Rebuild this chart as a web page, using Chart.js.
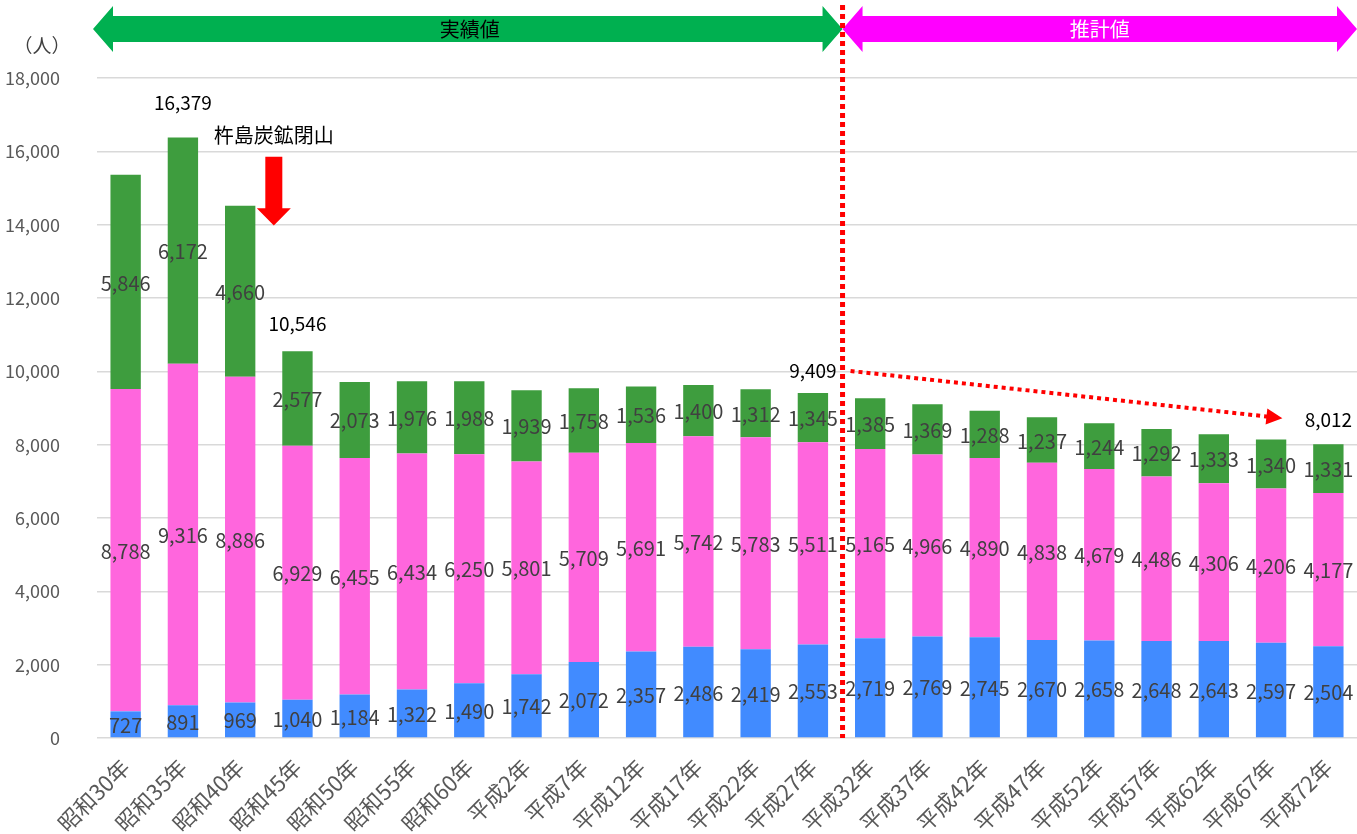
<!DOCTYPE html>
<html>
<head>
<meta charset="utf-8">
<script src="https://cdn.jsdelivr.net/npm/chart.js@4"></script>
<style>
  body { margin: 0; background: #fff; }
  #wrap { width: 1357px; height: 834px; position: relative; }
</style>
</head>
<body>
<div id="wrap"><canvas id="popChart"></canvas></div>
<script>
const years = ['昭和30年', '昭和35年', '昭和40年', '昭和45年', '昭和50年', '昭和55年', '昭和60年',
  '平成2年', '平成7年', '平成12年', '平成17年', '平成22年', '平成27年', '平成32年', '平成37年',
  '平成42年', '平成47年', '平成52年', '平成57年', '平成62年', '平成67年', '平成72年'];

const young = [727, 891, 969, 1040, 1184, 1322, 1490, 1742, 2072, 2357, 2486, 2419, 2553,
  2719, 2769, 2745, 2670, 2658, 2648, 2643, 2597, 2504];
const working = [8788, 9316, 8886, 6929, 6455, 6434, 6250, 5801, 5709, 5691, 5742, 5783, 5511,
  5165, 4966, 4890, 4838, 4679, 4486, 4306, 4206, 4177];
const elderly = [5846, 6172, 4660, 2577, 2073, 1976, 1988, 1939, 1758, 1536, 1400, 1312, 1345,
  1385, 1369, 1288, 1237, 1244, 1292, 1333, 1340, 1331];

const yTicks = [0, 2000, 4000, 6000, 8000, 10000, 12000, 14000, 16000, 18000];
const totalShown = [1, 3, 12, 21];   // bars with a total above them
const lastActual = 12;               // 平成27年

const font = "'Noto Sans CJK JP', 'Noto Sans', sans-serif";
Chart.defaults.font.family = font;

const fmt = v => v.toLocaleString('en-US');

// value labels in the middle of each segment
const segLabels = {
  id: 'segLabels',
  afterDatasetsDraw(chart) {
    const ctx = chart.ctx;
    ctx.save();
    ctx.font = '20px ' + font;
    ctx.fillStyle = '#404040';
    ctx.textAlign = 'center';
    ctx.textBaseline = 'middle';
    chart.data.datasets.forEach((ds, i) => {
      chart.getDatasetMeta(i).data.forEach((bar, j) => {
        const p = bar.getProps(['x', 'y', 'base'], true);
        ctx.fillText(fmt(ds.data[j]), p.x, (p.y + p.base) / 2 + 1);
      });
    });
    ctx.restore();
  }
};

function dblArrow(ctx, x1, x2, yc, shaftH, headH, headL, color) {
  ctx.fillStyle = color;
  ctx.beginPath();
  ctx.moveTo(x1, yc);
  ctx.lineTo(x1 + headL, yc - headH / 2);
  ctx.lineTo(x1 + headL, yc - shaftH / 2);
  ctx.lineTo(x2 - headL, yc - shaftH / 2);
  ctx.lineTo(x2 - headL, yc - headH / 2);
  ctx.lineTo(x2, yc);
  ctx.lineTo(x2 - headL, yc + headH / 2);
  ctx.lineTo(x2 - headL, yc + shaftH / 2);
  ctx.lineTo(x1 + headL, yc + shaftH / 2);
  ctx.lineTo(x1 + headL, yc + headH / 2);
  ctx.closePath();
  ctx.fill();
}

const notes = {
  id: 'notes',
  afterDraw(chart) {
    const ctx = chart.ctx;
    const xs = chart.scales.x, ys = chart.scales.y;
    const area = chart.chartArea;
    const splitX = (xs.getPixelForValue(lastActual) + xs.getPixelForValue(lastActual + 1)) / 2 + 1;
    ctx.save();

    // top range arrows
    dblArrow(ctx, area.left - 4, splitX, 29, 26, 46, 20, '#00b050');
    dblArrow(ctx, splitX, chart.width, 29, 26, 46, 20, '#ff00ff');
    ctx.font = '20px ' + font;
    ctx.textAlign = 'center';
    ctx.textBaseline = 'middle';
    ctx.fillStyle = '#000';
    ctx.fillText('実績値', (area.left + splitX) / 2, 29);
    ctx.fillStyle = '#fff';
    ctx.fillText('推計値', (splitX + chart.width) / 2, 29);

    // unit
    ctx.fillStyle = '#404040';
    ctx.font = '19px ' + font;
    ctx.fillText('（人）', 42, 46);

    // vertical split line
    ctx.strokeStyle = '#ff0000';
    ctx.lineWidth = 5;
    ctx.setLineDash([5, 4]);
    ctx.beginPath();
    ctx.moveTo(splitX, 5);
    ctx.lineTo(splitX, area.bottom);
    ctx.stroke();

    // totals
    ctx.fillStyle = '#000';
    ctx.font = '19px ' + font;
    ctx.textBaseline = 'middle';
    const lift = {1: 35, 3: 28, 12: 22, 21: 24};
    totalShown.forEach(i => {
      const t = young[i] + working[i] + elderly[i];
      const x = xs.getPixelForValue(i);
      ctx.fillText(fmt(t), x, ys.getPixelForValue(t) - lift[i]);
    });

    // trend arrow 9,409 -> 8,012
    const t0 = young[lastActual] + working[lastActual] + elderly[lastActual];
    const last = years.length - 1;
    const t1 = young[last] + working[last] + elderly[last];
    const ax1 = splitX + 8, ay1 = ys.getPixelForValue(t0) - 22;
    const ax2 = xs.getPixelForValue(last) - 46, ay2 = ys.getPixelForValue(t1) - 26;
    const ang = Math.atan2(ay2 - ay1, ax2 - ax1);
    ctx.lineWidth = 4;
    ctx.setLineDash([4, 4]);
    ctx.beginPath();
    ctx.moveTo(ax1, ay1);
    ctx.lineTo(ax2 - 14 * Math.cos(ang), ay2 - 14 * Math.sin(ang));
    ctx.stroke();
    ctx.setLineDash([]);
    ctx.fillStyle = '#ff0000';
    ctx.beginPath();
    ctx.moveTo(ax2, ay2);
    ctx.lineTo(ax2 - 16 * Math.cos(ang) + 8 * Math.sin(ang), ay2 - 16 * Math.sin(ang) - 8 * Math.cos(ang));
    ctx.lineTo(ax2 - 16 * Math.cos(ang) - 8 * Math.sin(ang), ay2 - 16 * Math.sin(ang) + 8 * Math.cos(ang));
    ctx.closePath();
    ctx.fill();

    // mine closure note + down arrow
    const mx = (xs.getPixelForValue(2) + xs.getPixelForValue(3)) / 2 + 5;
    ctx.fillStyle = '#000';
    ctx.font = '20px ' + font;
    ctx.fillText('杵島炭鉱閉山', mx, ys.getPixelForValue(16430));
    const top = ys.getPixelForValue(15850), neck = ys.getPixelForValue(14450), tip = ys.getPixelForValue(13980);
    ctx.fillStyle = '#ff0000';
    ctx.beginPath();
    ctx.moveTo(mx - 8.5, top);
    ctx.lineTo(mx + 8.5, top);
    ctx.lineTo(mx + 8.5, neck);
    ctx.lineTo(mx + 17, neck);
    ctx.lineTo(mx, tip);
    ctx.lineTo(mx - 17, neck);
    ctx.lineTo(mx - 8.5, neck);
    ctx.closePath();
    ctx.fill();

    ctx.restore();
  }
};

new Chart(document.getElementById('popChart'), {
  type: 'bar',
  data: {
    labels: years,
    datasets: [
      { label: '年少', data: young, backgroundColor: '#418bff' },
      { label: '生産年齢', data: working, backgroundColor: '#ff66dd' },
      { label: '老年', data: elderly, backgroundColor: '#3e9d3e' }
    ]
  },
  options: {
    responsive: true,
    maintainAspectRatio: false,
    animation: false,
    layout: { padding: { top: 78, right: 0, left: 0, bottom: 0 } },
    datasets: { bar: { barPercentage: 0.53, categoryPercentage: 1 } },
    plugins: { legend: { display: false }, tooltip: { enabled: false } },
    scales: {
      x: {
        stacked: true,
        grid: { display: false },
        border: { display: false },
        ticks: { color: '#595959', font: { size: 22 }, minRotation: 45, maxRotation: 45, padding: 8 },
        afterFit: s => { s.height = 96; }
      },
      y: {
        stacked: true,
        min: 0,
        max: 18000,
        afterBuildTicks: s => { s.ticks = yTicks.map(v => ({ value: v })); },
        grid: { color: '#d9d9d9', lineWidth: 1.5, drawTicks: false },
        border: { display: false },
        ticks: { color: '#595959', font: { size: 18 }, padding: 37, callback: v => fmt(v) },
        afterFit: s => { s.width = 97; }
      }
    }
  },
  plugins: [segLabels, notes]
});
</script>
</body>
</html>
